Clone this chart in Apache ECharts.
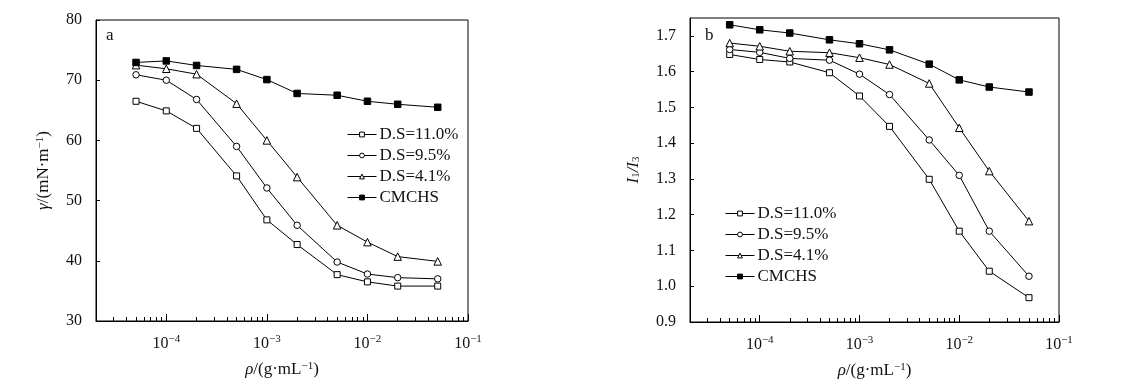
<!DOCTYPE html>
<html>
<head>
<meta charset="utf-8">
<script src="https://cdn.jsdelivr.net/npm/echarts@6/dist/echarts.min.js"></script>
<style>
html,body{margin:0;padding:0;background:#fff;}
#chart{width:1127px;height:390px;}
</style>
</head>
<body>
<div id="chart"></div>
<script>
// ---- data ----
const concentrations = [5e-5, 1e-4, 2e-4, 5e-4, 1e-3, 2e-3, 5e-3, 1e-2, 2e-2, 5e-2];
const seriesNames = ['D.S=11.0%', 'D.S=9.5%', 'D.S=4.1%', 'CMCHS'];

// panel a: surface tension (mN/m)
const gammaDS110 = [66.5, 64.9, 62.0, 54.1, 46.8, 42.7, 37.7, 36.5, 35.8, 35.8];
const gammaDS95  = [70.9, 70.0, 66.8, 59.0, 52.1, 45.9, 39.8, 37.8, 37.2, 37.0];
const gammaDS41  = [72.5, 71.9, 71.0, 66.1, 60.0, 53.9, 45.9, 43.1, 40.7, 39.9];
const gammaCMCHS = [72.95, 73.2, 72.45, 71.8, 70.1, 67.8, 67.5, 66.5, 66.0, 65.5];

// panel b: I1/I3
const ratioDS110 = [1.648, 1.634, 1.627, 1.597, 1.532, 1.447, 1.299, 1.154, 1.042, 0.968];
const ratioDS95  = [1.662, 1.654, 1.637, 1.632, 1.593, 1.536, 1.409, 1.310, 1.154, 1.028];
const ratioDS41  = [1.680, 1.671, 1.657, 1.653, 1.639, 1.620, 1.567, 1.443, 1.322, 1.182];
const ratioCMCHS = [1.731, 1.717, 1.708, 1.689, 1.678, 1.661, 1.621, 1.577, 1.557, 1.543];

// axis ticks
const xMajorTicks = [1e-4, 1e-3, 1e-2, 1e-1];
const xMinorTicks = [2e-5, 3e-5, 4e-5, 5e-5, 6e-5, 7e-5, 8e-5, 9e-5,
                     2e-4, 3e-4, 4e-4, 5e-4, 6e-4, 7e-4, 8e-4, 9e-4,
                     2e-3, 3e-3, 4e-3, 5e-3, 6e-3, 7e-3, 8e-3, 9e-3,
                     2e-2, 3e-2, 4e-2, 5e-2, 6e-2, 7e-2, 8e-2, 9e-2];
const yTicksA = [30, 40, 50, 60, 70, 80];
const yTicksB = [0.9, 1.0, 1.1, 1.2, 1.3, 1.4, 1.5, 1.6, 1.7];

const FONT = '"Liberation Serif", "Times New Roman", serif';
const INK = '#111';

const symbolDefs = [
  {symbol: 'rect', fill: '#fff', size: 6},
  {symbol: 'circle', fill: '#fff', size: 6.5},
  {symbol: 'triangle', fill: '#fff', size: 7.5},
  {symbol: 'rect', fill: '#000', size: 6.5}
];

function pairs(ys) { return concentrations.map((x, i) => [x, ys[i]]); }

function makeSeries(dataSets, xIdx, yIdx) {
  return dataSets.map((ys, k) => ({
    name: seriesNames[k],
    type: 'line',
    xAxisIndex: xIdx,
    yAxisIndex: yIdx,
    data: pairs(ys),
    symbol: symbolDefs[k].symbol,
    symbolSize: symbolDefs[k].size,
    showAllSymbol: true,
    lineStyle: {color: '#000', width: 1},
    itemStyle: {color: symbolDefs[k].fill, borderColor: '#000', borderWidth: 1},
    emphasis: {disabled: true},
    z: 3 + k,
    animation: false
  }));
}

function expLabel(v) {
  const e = Math.round(Math.log10(v));
  return '{b|10}{s|\u2212' + Math.abs(e) + '}';
}

const xLabelRich = {
  b: {fontFamily: FONT, fontSize: 16, color: INK, lineHeight: 20},
  s: {fontFamily: FONT, fontSize: 11, color: INK, verticalAlign: 'top', lineHeight: 12}
};

const nameRich = {
  i: {fontFamily: FONT, fontSize: 17, fontStyle: 'italic', color: INK},
  n: {fontFamily: FONT, fontSize: 17, color: INK},
  s: {fontFamily: FONT, fontSize: 11, color: INK, verticalAlign: 'top', lineHeight: 10},
  sub: {fontFamily: FONT, fontSize: 11, color: INK, verticalAlign: 'bottom', lineHeight: 10}
};

function xAxesFor(gridIndex) {
  return [
    {
      type: 'log', logBase: 10, gridIndex: gridIndex, min: 2e-5, max: 0.1,
      position: 'bottom',
      axisLine: {show: true, lineStyle: {color: '#000', width: 1}},
      axisTick: {show: true, inside: true, length: 7, customValues: xMajorTicks, lineStyle: {color: '#000'}},
      axisLabel: {show: true, margin: 13, customValues: xMajorTicks, formatter: expLabel, rich: xLabelRich},
      splitLine: {show: false},
      minorTick: {show: false},
      name: '{i|\u03C1}{n|/(g\u00B7mL}{s|\u22121}{n|)}',
      nameLocation: 'middle',
      nameGap: 40,
      nameTextStyle: {rich: nameRich}
    },
    {
      type: 'log', logBase: 10, gridIndex: gridIndex, min: 2e-5, max: 0.1,
      position: 'bottom',
      axisLine: {show: false},
      axisTick: {show: true, inside: true, length: 4, customValues: xMinorTicks, lineStyle: {color: '#000'}},
      axisLabel: {show: false},
      splitLine: {show: false}
    }
  ];
}

const legendCommon = {
  data: seriesNames.map((n, k) => ({
    name: n,
    itemStyle: {color: symbolDefs[k].fill, borderColor: '#000', borderWidth: 1}
  })),
  orient: 'vertical',
  itemWidth: 29, itemHeight: 6, itemGap: 4,
  lineStyle: {width: 1},
  textStyle: {fontFamily: FONT, fontSize: 17, color: INK, padding: [0, 0, 0, -2]},
  selectedMode: false
};

const option = {
  animation: false,
  backgroundColor: '#fff',
  textStyle: {fontFamily: FONT},
  grid: [
    {left: 96, top: 20, width: 372, height: 301, show: true, borderColor: '#000', borderWidth: 1, containLabel: false},
    {left: 690, top: 18, width: 369, height: 304, show: true, borderColor: '#000', borderWidth: 1, containLabel: false}
  ],
  xAxis: xAxesFor(0).concat(xAxesFor(1)),
  yAxis: [
    {
      type: 'value', gridIndex: 0, min: 30, max: 80, interval: 10,
      axisLine: {show: true, lineStyle: {color: '#000', width: 1}},
      axisTick: {show: true, inside: true, length: 4, lineStyle: {color: '#000'}},
      axisLabel: {fontFamily: FONT, fontSize: 16, color: INK, margin: 14},
      splitLine: {show: false},
      name: '{i|\u03B3}{n|/(mN\u00B7m}{s|\u22121}{n|)}',
      nameLocation: 'middle',
      nameGap: 44,
      nameRotate: 90,
      nameTextStyle: {rich: nameRich}
    },
    {
      type: 'value', gridIndex: 1, min: 0.9, max: 1.75, interval: 0.1,
      axisLine: {show: true, lineStyle: {color: '#000', width: 1}},
      axisTick: {show: true, inside: true, length: 4, lineStyle: {color: '#000'}},
      axisLabel: {fontFamily: FONT, fontSize: 16, color: INK, margin: 14, showMaxLabel: false,
        formatter: v => (Math.abs(v - 1.75) < 1e-6 ? '' : v.toFixed(1))},
      splitLine: {show: false},
      name: '{i|I}{sub|1}{i|/I}{sub|3}',
      nameLocation: 'middle',
      nameGap: 48,
      nameRotate: 90,
      nameTextStyle: {rich: nameRich}
    }
  ],
  legend: [
    Object.assign({}, legendCommon, {left: 342, top: 121}),
    Object.assign({}, legendCommon, {left: 720, top: 200})
  ],
  graphic: [
    {type: 'text', left: 106, top: 27, style: {text: 'a', fontFamily: FONT, fontSize: 17, fill: INK}},
    {type: 'text', left: 705, top: 27, style: {text: 'b', fontFamily: FONT, fontSize: 17, fill: INK}}
  ],
  series: makeSeries([gammaDS110, gammaDS95, gammaDS41, gammaCMCHS], 0, 0)
    .concat(makeSeries([ratioDS110, ratioDS95, ratioDS41, ratioCMCHS], 2, 1))
};

const chart = echarts.init(document.getElementById('chart'), null, {renderer: 'canvas'});
chart.setOption(option);
</script>
</body>
</html>
